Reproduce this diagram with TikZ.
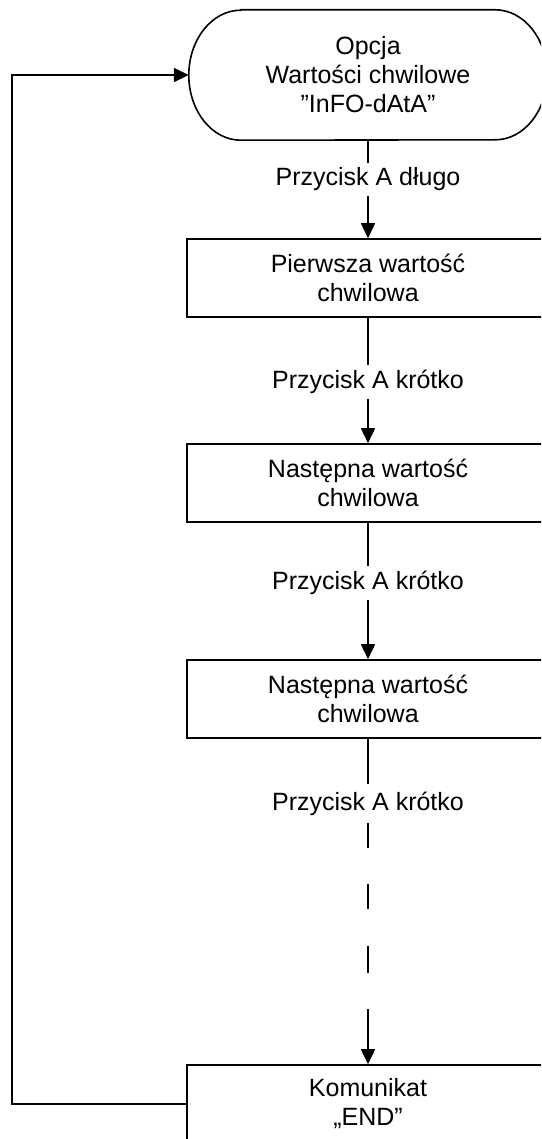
\documentclass[tikz,border=0pt]{standalone}
\usepackage{fontspec}
\setmainfont{Liberation Sans}
\usetikzlibrary{arrows.meta}
\tikzset{
  txt/.style={font=\fontsize{25pt}{29pt}\selectfont, align=center},
  stepbox/.style={txt, draw, line width=1.6pt, minimum width=362pt, minimum height=78pt, inner sep=0pt},
  termbox/.style={txt, minimum width=358pt, minimum height=130pt, inner sep=0pt},
  lbl/.style={txt, fill=white, inner sep=5pt},
  conn/.style={line width=1.6pt, -{Triangle[length=15pt,width=14pt]}},
  plain/.style={line width=1.6pt}
}
\begin{document}
\begin{tikzpicture}[x=1pt,y=-1pt]
\useasboundingbox (0,0) rectangle (541,1139);
\clip (0,0) rectangle (541,1139);
\node[termbox] (t) at (368,75) {Opcja\\Wartości chwilowe\\”InFO-dAtA”};
\draw[plain] ([xshift=52pt]t.north west) -- ([xshift=-52pt]t.north east)
  arc[start angle=-90, end angle=90, x radius=52, y radius=65]
  -- ([xshift=52pt]t.south west)
  arc[start angle=90, end angle=270, x radius=52, y radius=65] -- cycle;
\node[stepbox] (b1) at (368,278) {Pierwsza wartość\\chwilowa};
\node[stepbox] (b2) at (368,483) {Następna wartość\\chwilowa};
\node[stepbox] (b3) at (368,699) {Następna wartość\\chwilowa};
\node[stepbox] (b4) at (368,1104) {Komunikat\\„END”};
\draw[conn] (t.south) -- node[lbl, pos=0.4] {Przycisk A długo} (b1.north);
\draw[conn] (b1.south) -- node[lbl, pos=0.51] {Przycisk A krótko} (b2.north);
\draw[conn] (b2.south) -- node[lbl, pos=0.44] {Przycisk A krótko} (b3.north);
\draw[conn, dash pattern=on 45pt off 39pt on 25pt off 36pt on 25pt off 37pt on 27pt off 36pt on 100pt] (b3.south) -- node[lbl, pos=0.2] {Przycisk A krótko} (b4.north);
\coordinate (c1) at (12,1104);
\coordinate (c2) at (12,75);
\draw[conn] (b4.west) -- (c1) -- (c2) -- (t.west);
\end{tikzpicture}
\end{document}
